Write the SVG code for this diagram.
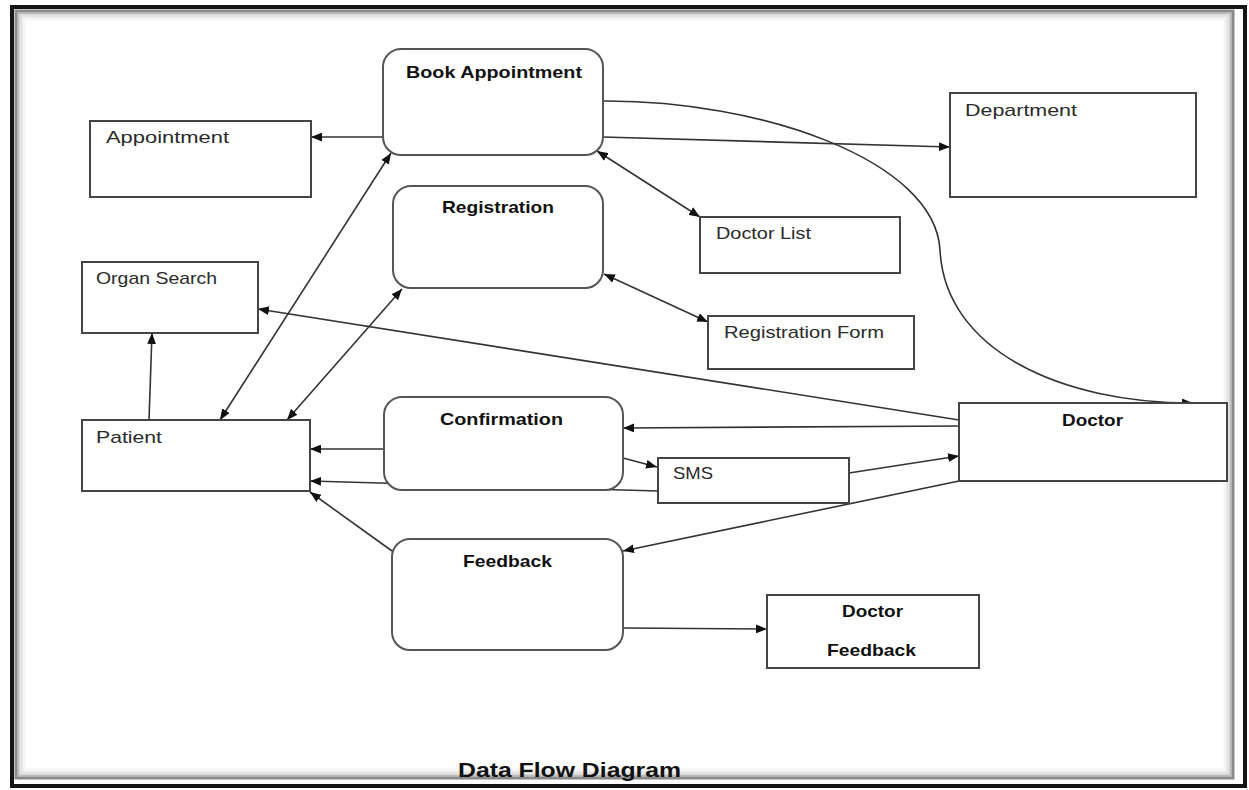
<svg xmlns="http://www.w3.org/2000/svg" width="1249" height="790" viewBox="0 0 1249 790">
  <style>
    .box { fill: #ffffff; stroke: #444; stroke-width: 2; }
    .proc { fill: #ffffff; stroke: #555; stroke-width: 2; }
    .lbl { font-family: "Liberation Sans", Arial, sans-serif; font-size: 17px; fill: #2a2a2a; }
    .bold { font-family: "Liberation Sans", Arial, sans-serif; font-size: 17px; font-weight: bold; fill: #111; }
    .title { font-family: "Liberation Sans", Arial, sans-serif; font-size: 20px; font-weight: bold; fill: #111; }
    .flow { fill: none; stroke: #333; stroke-width: 1.6; }
  </style>
  <defs>
    <marker id="arrow" viewBox="0 0 10 8" refX="10" refY="4" markerWidth="11" markerHeight="9" markerUnits="userSpaceOnUse" orient="auto-start-reverse">
      <path d="M0,0 L10,4 L0,8 z" fill="#111"/>
    </marker>
  </defs>

  <!-- page background and shaded frame -->
  <rect x="0" y="0" width="1249" height="790" fill="#ffffff"/>
  <g id="frame" fill="none">
    <rect x="24" y="19" width="1201" height="751" stroke="#f4f4f4" stroke-width="3"/>
    <rect x="21" y="16" width="1207" height="757" stroke="#e2e2e2" stroke-width="3"/>
    <rect x="18.5" y="13.5" width="1212" height="762" stroke="#bdbdbd" stroke-width="2"/>
    <rect x="16" y="11" width="1217" height="767" stroke="#8a8a8a" stroke-width="3"/>
    <rect x="12" y="7" width="1233" height="779" stroke="#151515" stroke-width="4"/>
  </g>

  <!-- data flows -->
  <g id="connectors" class="flow">
    <path d="M383,137 L311,137" marker-end="url(#arrow)"/>
    <path d="M603,137 L950,147" marker-end="url(#arrow)"/>
    <path d="M603,101 C760,100 935,160 940,250 C945,350 1060,403 1193,403" marker-end="url(#arrow)"/>
    <path d="M597,151 L700,217" marker-start="url(#arrow)" marker-end="url(#arrow)"/>
    <path d="M604,274 L708,322" marker-start="url(#arrow)" marker-end="url(#arrow)"/>
    <path d="M220,420 L391,153" marker-start="url(#arrow)" marker-end="url(#arrow)"/>
    <path d="M287,420 L402,289" marker-start="url(#arrow)" marker-end="url(#arrow)"/>
    <path d="M149,420 L152,333" marker-end="url(#arrow)"/>
    <path d="M959,420 L258,309" marker-end="url(#arrow)"/>
    <path d="M959,426 L623,428" marker-end="url(#arrow)"/>
    <path d="M384,449 L310,449" marker-end="url(#arrow)"/>
    <path d="M623,458 L657,467" marker-end="url(#arrow)"/>
    <path d="M658,491 L310,481" marker-end="url(#arrow)"/>
    <path d="M849,473 L959,456" marker-end="url(#arrow)"/>
    <path d="M959,481 L623,551" marker-end="url(#arrow)"/>
    <path d="M392,551 L310,492" marker-end="url(#arrow)"/>
    <path d="M623,628 L767,629" marker-end="url(#arrow)"/>
  </g>

  <!-- processes -->
  <g id="book-appointment">
    <rect class="proc" x="383" y="49" width="220" height="106" rx="18"/>
    <text class="bold" x="406" y="78" textLength="176" lengthAdjust="spacingAndGlyphs">Book Appointment</text>
  </g>
  <g id="registration">
    <rect class="proc" x="393" y="186" width="210" height="102" rx="18"/>
    <text class="bold" x="442" y="213" textLength="112" lengthAdjust="spacingAndGlyphs">Registration</text>
  </g>
  <g id="confirmation">
    <rect class="proc" x="384" y="397" width="239" height="93" rx="18"/>
    <text class="bold" x="440" y="425" textLength="123" lengthAdjust="spacingAndGlyphs">Confirmation</text>
  </g>
  <g id="feedback">
    <rect class="proc" x="392" y="539" width="231" height="111" rx="18"/>
    <text class="bold" x="463" y="567" textLength="89" lengthAdjust="spacingAndGlyphs">Feedback</text>
  </g>

  <!-- entities and stores -->
  <g id="appointment">
    <rect class="box" x="90" y="121" width="221" height="76"/>
    <text class="lbl" x="106" y="143" textLength="123" lengthAdjust="spacingAndGlyphs">Appointment</text>
  </g>
  <g id="department">
    <rect class="box" x="950" y="93" width="246" height="104"/>
    <text class="lbl" x="965" y="116" textLength="112" lengthAdjust="spacingAndGlyphs">Department</text>
  </g>
  <g id="doctor-list">
    <rect class="box" x="700" y="217" width="200" height="56"/>
    <text class="lbl" x="716" y="239" textLength="95" lengthAdjust="spacingAndGlyphs">Doctor List</text>
  </g>
  <g id="registration-form">
    <rect class="box" x="708" y="316" width="206" height="53"/>
    <text class="lbl" x="724" y="338" textLength="160" lengthAdjust="spacingAndGlyphs">Registration Form</text>
  </g>
  <g id="organ-search">
    <rect class="box" x="82" y="262" width="176" height="71"/>
    <text class="lbl" x="96" y="284" textLength="121" lengthAdjust="spacingAndGlyphs">Organ Search</text>
  </g>
  <g id="patient">
    <rect class="box" x="82" y="420" width="228" height="71"/>
    <text class="lbl" x="96" y="443" textLength="66" lengthAdjust="spacingAndGlyphs">Patient</text>
  </g>
  <g id="sms">
    <rect class="box" x="658" y="458" width="191" height="45"/>
    <text class="lbl" x="673" y="479" textLength="40" lengthAdjust="spacingAndGlyphs">SMS</text>
  </g>
  <g id="doctor">
    <rect class="box" x="959" y="403" width="268" height="78"/>
    <text class="bold" x="1062" y="426" textLength="61" lengthAdjust="spacingAndGlyphs">Doctor</text>
  </g>
  <g id="doctor-feedback">
    <rect class="box" x="767" y="595" width="212" height="73"/>
    <text class="bold" x="842" y="617" textLength="61" lengthAdjust="spacingAndGlyphs">Doctor</text>
    <text class="bold" x="827" y="656" textLength="89" lengthAdjust="spacingAndGlyphs">Feedback</text>
  </g>

  <text class="title" x="458" y="777" textLength="223" lengthAdjust="spacingAndGlyphs">Data Flow Diagram</text>
</svg>
